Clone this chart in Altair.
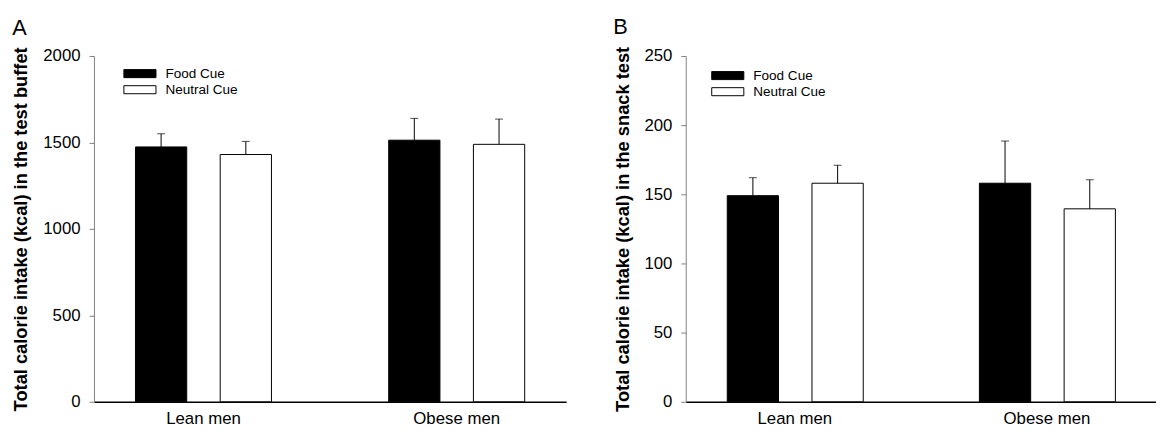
import altair as alt
import pandas as pd

# ---- data ----
groups = ["Lean men", "Lean men", "Obese men", "Obese men"]
cues = ["Food Cue", "Neutral Cue", "Food Cue", "Neutral Cue"]
cue_order = ["Food Cue", "Neutral Cue"]
group_order = ["Lean men", "Obese men"]

buffet_mean = [1474, 1430, 1513, 1489]
buffet_err = [76, 76, 126, 146]

snack_mean = [149, 158, 158, 139.5]
snack_err = [13, 13, 30.5, 21]

buffet_ticks = [0, 500, 1000, 1500, 2000]
snack_ticks = [0, 50, 100, 150, 200, 250]

FONT = "Liberation Sans"
TITLE_A = "Total calorie intake (kcal) in the test buffet"
TITLE_B = "Total calorie intake (kcal) in the snack test"


def panel(means, errs, ticks, letter, ytitle, lx, ly, width):
    df = pd.DataFrame({
        "group": groups,
        "cue": cues,
        "mean": means,
        "top": [m + e for m, e in zip(means, errs)],
    })
    x = alt.X(
        "group:N", title=None, sort=group_order,
        scale=alt.Scale(paddingInner=0.135, paddingOuter=0),
        axis=alt.Axis(labelAngle=0, ticks=False, tickSize=0, domainColor="black",
                      domainWidth=1.5, labelFontSize=17, labelPadding=9,
                      labelColor="black", labelFont=FONT),
    )
    xo = alt.XOffset("cue:N", sort=cue_order,
                     scale=alt.Scale(paddingInner=0.395, paddingOuter=0.49))
    yscale = alt.Scale(domain=[ticks[0], ticks[-1]], nice=False)
    yaxis = alt.Axis(values=ticks, format="d", grid=False, domainColor="#808080",
                     tickColor="#808080", tickSize=5, labelFontSize=17, labelPadding=9,
                     labelColor="black", labelFont=FONT, titleFontSize=18.5,
                     titleFontWeight="bold", titlePadding=12, titleColor="black",
                     titleFont=FONT)
    legend = alt.Legend(
        orient="none", legendX=lx, legendY=ly, title=None,
        symbolType="M-4,-1H4V1H-4Z", symbolSize=66,
        symbolStrokeColor="black", symbolStrokeWidth=1,
        labelFontSize=13.7, labelFont=FONT, labelColor="black",
        labelOffset=19, rowPadding=1.3,
    )
    bars = alt.Chart(df).mark_bar(stroke="black", strokeWidth=1).encode(
        x=x, xOffset=xo,
        y=alt.Y("mean:Q", title=ytitle, scale=yscale, axis=yaxis),
        color=alt.Color("cue:N", sort=cue_order,
                        scale=alt.Scale(domain=cue_order, range=["black", "white"]),
                        legend=legend),
    )
    rules = alt.Chart(df).mark_rule(color="black", strokeWidth=1).encode(
        x=x, xOffset=xo,
        y=alt.Y("mean:Q", title=ytitle),
        y2="top:Q",
    )
    caps = alt.Chart(df).mark_tick(color="black", thickness=1, size=8).encode(
        x=x, xOffset=xo,
        y=alt.Y("top:Q", title=ytitle),
    )
    return alt.layer(bars, rules, caps).properties(
        width=width, height=350,
        title=alt.TitleParams(letter, anchor="start", fontSize=22, fontWeight="normal",
                              offset=7, font=FONT, color="black"),
    )


pa = panel(buffet_mean, buffet_err, buffet_ticks, "A", TITLE_A, 39.7, 11, 478)
pb = panel(snack_mean, snack_err, snack_ticks, "B", TITLE_B, 35.7, 13, 476)

chart = (
    alt.hconcat(pa, pb, spacing=47)
    .resolve_scale(color="independent")
    .resolve_legend(color="independent")
    .configure(font=FONT, view=alt.ViewConfig(stroke="transparent", strokeWidth=0))
    .properties(padding={"left": 4, "top": 6, "right": 0, "bottom": 0})
)

chart.save("out.html", embed_options={"renderer": "svg", "actions": False})
